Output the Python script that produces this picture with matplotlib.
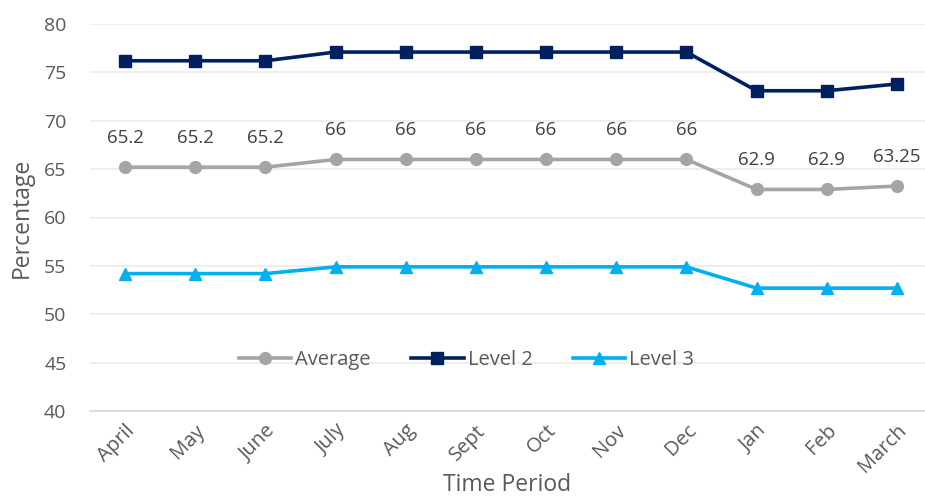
import matplotlib
matplotlib.use("Agg")
import matplotlib.pyplot as plt

months = ["April", "May", "June", "July", "Aug", "Sept", "Oct", "Nov", "Dec", "Jan", "Feb", "March"]
average = [65.2, 65.2, 65.2, 66, 66, 66, 66, 66, 66, 62.9, 62.9, 63.25]
level2 = [76.2, 76.2, 76.2, 77.1, 77.1, 77.1, 77.1, 77.1, 77.1, 73.1, 73.1, 73.8]
level3 = [54.2, 54.2, 54.2, 54.9, 54.9, 54.9, 54.9, 54.9, 54.9, 52.7, 52.7, 52.7]
avg_labels = ["65.2", "65.2", "65.2", "66", "66", "66", "66", "66", "66", "62.9", "62.9", "63.25"]

plt.rcParams['font.family'] = ['Open Sans', 'DejaVu Sans']
txt = '#595959'

fig = plt.figure(figsize=(9.25, 4.97), dpi=100)
ax = fig.add_axes([90/925, 86/497, 835/925, 387/497])

x = list(range(len(months)))
ax.plot(x, average, color='#A5A5A5', lw=2.6, marker='o', ms=8.5, label='Average', zorder=3)
ax.plot(x, level2, color='#002060', lw=2.6, marker='s', ms=8.5, label='Level 2', zorder=3)
ax.plot(x, level3, color='#00B0F0', lw=2.6, marker='^', ms=8.5, label='Level 3', zorder=3)

for xi, yi, lab in zip(x, average, avg_labels):
    ax.annotate(lab, (xi, yi), xytext=(0, 21), textcoords='offset points',
                ha='center', va='center', fontsize=13.5, color='#404040')

ax.set_xlim(-0.4987, 11.4)
ax.set_ylim(40, 80)
ax.set_yticks(range(40, 81, 5))
ax.set_xticks(x)
ax.set_xticklabels(months, rotation=45, ha='right', rotation_mode='anchor')
ax.tick_params(axis='both', length=0, colors=txt)
ax.tick_params(axis='x', pad=7, labelsize=14.5)
ax.tick_params(axis='y', pad=17, labelsize=14)
ax.grid(axis='y', color='#EBEBEB', lw=1.2)
ax.set_axisbelow(True)
for s in ['top', 'right', 'left']:
    ax.spines[s].set_visible(False)
ax.spines['bottom'].set_color('#D9D9D9')
ax.spines['bottom'].set_linewidth(1.2)

ax.set_xlabel('Time Period', fontsize=16.5, color=txt, labelpad=-3)
ax.set_ylabel('Percentage', fontsize=16.5, color=txt, labelpad=7)

leg = ax.legend(loc='center', bbox_to_anchor=(0.451, 0.132), ncol=3, frameon=False,
                fontsize=14.5, handlelength=2.6, columnspacing=2.0, handletextpad=0.2)
for t in leg.get_texts():
    t.set_color(txt)

fig.savefig('out.png', dpi=100)
